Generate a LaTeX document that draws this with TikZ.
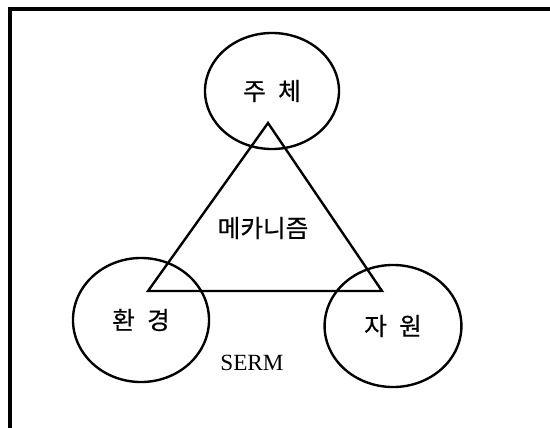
\documentclass[tikz,border=0pt]{standalone}
\usepackage{fontspec}
\setmainfont{Liberation Serif}
\newfontfamily\kor[FakeBold=0.5]{Noto Sans CJK KR}
\usepackage{tikz}
\usetikzlibrary{shapes,positioning,calc}

\newcommand{\gapko}{\hspace{0.5em}}

\begin{document}
\begin{tikzpicture}[
        x=0.025cm, y=-0.025cm,
        part/.style={ellipse, draw, line width=1.7pt, inner sep=0pt, font=\kor\fontsize{17.5}{20}\selectfont},
        core/.style={font=\kor\fontsize{17.5}{20}\selectfont},
        edge/.style={line width=1.7pt, line join=miter}
    ]
        \useasboundingbox (0,0) rectangle (550,427);
        \clip (0,0) rectangle (550,427);

        % Frame
        \draw[line width=2.5pt] (10,9) rectangle (580,460);

        % Triangle
        \coordinate (apex) at (268,123);
        \coordinate (left) at (148,291);
        \coordinate (right) at (382,291);
        \draw[edge] (apex) -- (left) -- (right) -- cycle;

        % Parts
        \node[part, minimum width=3.35cm, minimum height=2.9cm] (subject) at (272,91) {주\gapko 체};
        \node[part, minimum width=3.4cm, minimum height=3.1cm] (env) at (141,320) {환\gapko 경};
        \node[part, minimum width=3.42cm, minimum height=3.05cm] (res) at (393,326) {자\gapko 원};

        % Labels
        \node[core] (mech) at (263,228) {메카니즘};
        \node[font=\fontsize{16.5}{18}\selectfont] (serm) at (252,363) {SERM};

    \end{tikzpicture}
\end{document}
